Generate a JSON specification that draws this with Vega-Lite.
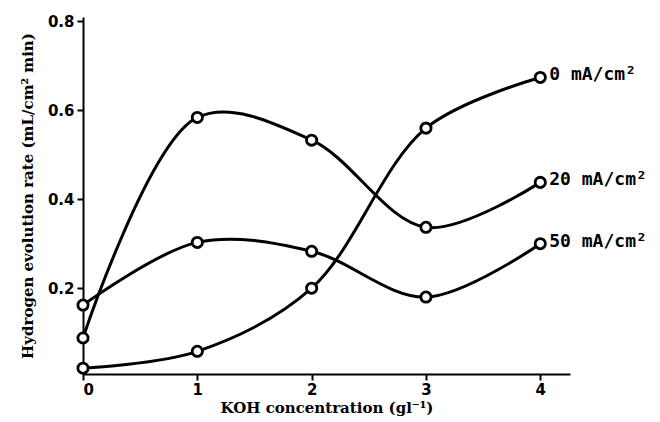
{
  "$schema": "https://vega.github.io/schema/vega-lite/v6.json",
  "width": 487,
  "height": 357,
  "autosize": {"type": "none"},
  "padding": {"left": 83, "top": 17, "right": 90, "bottom": 48},
  "background": "white",
  "config": {
    "view": {"stroke": null},
    "axis": {"grid": false, "domainColor": "black", "domainWidth": 2, "tickColor": "black", "tickWidth": 2, "tickSize": 6, "labelColor": "black", "titleColor": "black", "labelFont": "DejaVu Sans", "labelFontWeight": "bold", "labelFontSize": 15, "titleFont": "DejaVu Serif", "titleFontWeight": "bold", "titleFontSize": 15}
  },
  "data": {
    "values": [
      {"series": "0 mA/cm²", "koh": 0, "rate": 0.02},
      {"series": "0 mA/cm²", "koh": 1, "rate": 0.058},
      {"series": "0 mA/cm²", "koh": 2, "rate": 0.2},
      {"series": "0 mA/cm²", "koh": 3, "rate": 0.56},
      {"series": "0 mA/cm²", "koh": 4, "rate": 0.674},
      {"series": "20 mA/cm²", "koh": 0, "rate": 0.088},
      {"series": "20 mA/cm²", "koh": 1, "rate": 0.584},
      {"series": "20 mA/cm²", "koh": 2, "rate": 0.533},
      {"series": "20 mA/cm²", "koh": 3, "rate": 0.337},
      {"series": "20 mA/cm²", "koh": 4, "rate": 0.438},
      {"series": "50 mA/cm²", "koh": 0, "rate": 0.162},
      {"series": "50 mA/cm²", "koh": 1, "rate": 0.303},
      {"series": "50 mA/cm²", "koh": 2, "rate": 0.283},
      {"series": "50 mA/cm²", "koh": 3, "rate": 0.18},
      {"series": "50 mA/cm²", "koh": 4, "rate": 0.3}
    ]
  },
  "encoding": {
    "x": {
      "field": "koh", "type": "quantitative",
      "scale": {"domain": [0, 4.26], "nice": false, "zero": false},
      "axis": {"values": [0, 1, 2, 3, 4], "format": "d", "title": "KOH concentration (gl⁻¹)", "labelPadding": 2, "titlePadding": 3}
    },
    "y": {
      "field": "rate", "type": "quantitative",
      "scale": {"domain": [0.007, 0.81], "nice": false, "zero": false},
      "axis": {"values": [0.2, 0.4, 0.6, 0.8], "format": ".1f", "title": "Hydrogen evolution rate (mL/cm² min)", "labelPadding": 3, "titlePadding": 12}
    }
  },
  "layer": [
    {
      "mark": {"type": "line", "interpolate": "catmull-rom", "strokeWidth": 3, "color": "black"},
      "encoding": {"detail": {"field": "series"}}
    },
    {
      "mark": {"type": "point", "shape": "circle", "filled": true, "fill": "white", "stroke": "black", "strokeWidth": 2.8, "size": 105, "opacity": 1},
      "encoding": {"detail": {"field": "series"}}
    },
    {
      "transform": [{"filter": "datum.koh == 4"}],
      "mark": {"type": "text", "align": "left", "baseline": "middle", "dx": 9, "dy": -2, "font": "DejaVu Sans Mono", "fontWeight": "bold", "fontSize": 18, "color": "black"},
      "encoding": {"text": {"field": "series"}}
    }
  ]
}
